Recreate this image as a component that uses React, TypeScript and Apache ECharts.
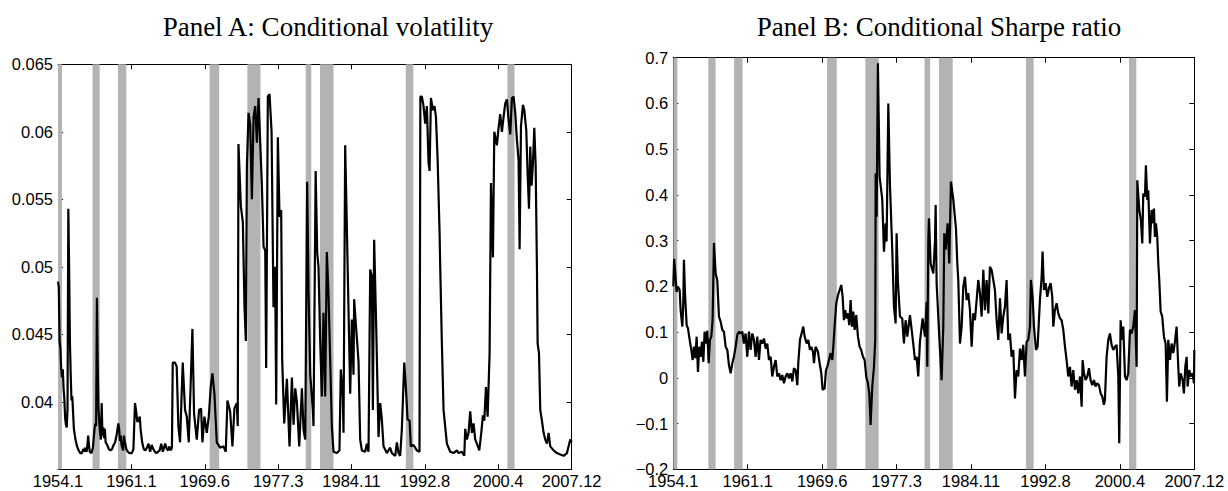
import React, { useEffect, useRef } from "react";
import * as echarts from "echarts";

// Month index: 0 = 1954.1 ... 647 = 2007.12
const MONTH_MAX = 647;
const X_TICK_LABELS = ["1954.1", "1961.1", "1969.6", "1977.3", "1984.11", "1992.8", "2000.4", "2007.12"];

// NBER recession bands, [start month index, end month index]
const RECESSIONS: [number, number][] = [
  [0, 5], [43.5, 52.5], [75.5, 86], [191, 203], [238.5, 255],
  [312, 319], [330, 347], [438, 447.5], [566, 575],
];

const PANEL_A_TITLE = "Panel A: Conditional volatility";
const PANEL_B_TITLE = "Panel B: Conditional Sharpe ratio";

// Panel A: conditional volatility [month index, value]
const volatility: [number, number][] = [
  [0,0.0489],[1,0.0485],[2,0.0445],[3,0.0440],[4,0.0425],[5,0.0418],[6,0.0424],[7,0.0410],[8,0.0402],[9,0.0388],
  [10,0.0383],[11,0.0381],[12,0.0395],[13,0.0543],[14,0.0500],[15,0.0445],[16,0.0420],[17,0.0401],[18,0.0404],[19,0.0392],
  [20,0.0380],[22,0.0372],[24,0.0367],[26,0.0364],[28,0.0362],[30,0.0362],[32,0.0365],[33,0.0363],[34,0.0366],[36,0.0363],
  [37,0.0368],[38,0.0375],[39,0.0368],[40,0.0363],[42,0.0362],[44,0.0366],[46,0.0380],[47,0.0384],[48,0.0382],[49,0.0477],
  [50,0.0430],[51,0.0395],[52,0.0385],[53,0.0377],[54,0.0372],[55,0.0399],[56,0.0375],[57,0.0381],[58,0.0373],[59,0.0380],
  [60,0.0370],[62,0.0368],[64,0.0365],[66,0.0364],[68,0.0365],[70,0.0368],[72,0.0370],[74,0.0376],[76,0.0384],[77,0.0380],
  [78,0.0371],[79,0.0375],[80,0.0368],[82,0.0364],[83,0.0375],[84,0.0371],[86,0.0365],[88,0.0363],[90,0.0362],[93,0.0362],
  [95,0.0365],[97,0.0399],[98,0.0395],[100,0.0385],[102,0.0387],[103,0.0389],[104,0.0380],[106,0.0370],[108,0.0365],[110,0.0364],
  [112,0.0366],[114,0.0369],[116,0.0363],[118,0.0368],[120,0.0365],[122,0.0363],[124,0.0362],[126,0.0363],[128,0.0364],[130,0.0369],
  [132,0.0363],[134,0.0367],[135,0.0369],[137,0.0365],[139,0.0364],[140,0.0367],[142,0.0364],[143.5,0.0366],[144.5,0.0429],[147.4,0.0429],
  [149.5,0.0426],[151.6,0.0382],[153.7,0.0370],[157.1,0.0429],[160,0.0394],[162.2,0.0389],[164.7,0.0370],[167.2,0.0415],[169.3,0.0454],[171.4,0.0391],
  [174.8,0.0372],[177.7,0.0394],[180.2,0.0395],[181.9,0.0370],[184.4,0.0389],[187.4,0.0377],[189.9,0.0389],[192.4,0.0411],[194.5,0.0421],[197,0.0406],
  [200,0.0370],[204.2,0.0366],[208.4,0.0367],[211.3,0.0363],[213.4,0.0401],[216.8,0.0393],[219.7,0.0367],[222.2,0.0395],[225.2,0.0399],[226.4,0.0382],
  [227.3,0.0591],[230.3,0.0545],[232.8,0.0533],[234.9,0.0470],[236.6,0.0445],[237.9,0.0575],[240,0.0614],[242.1,0.0605],[244.2,0.0550],[246.3,0.0611],
  [248.4,0.0619],[250.5,0.0592],[252.6,0.0625],[254.7,0.0592],[256.8,0.0560],[258.9,0.0515],[261,0.0512],[262.2,0.0425],[264.3,0.0626],[266.4,0.0628],
  [269,0.0600],[271.4,0.0470],[273.5,0.0500],[274.8,0.0398],[276.9,0.0596],[279,0.0537],[281.1,0.0542],[282.4,0.0431],[284.9,0.0384],[288.3,0.0417],
  [291.6,0.0367],[294.6,0.0418],[296.7,0.0383],[298.8,0.0410],[300.9,0.0400],[303.8,0.0367],[307.2,0.0410],[309.3,0.0379],[311.4,0.0372],[313.8,0.0563],
  [315.6,0.0480],[317.7,0.0420],[321.0,0.0394],[321.8,0.0382],[324.5,0.0571],[326.5,0.0510],[328.1,0.0500],[330.2,0.0446],[332.3,0.0404],[334.4,0.0466],
  [336.5,0.0404],[338.6,0.0511],[340.7,0.0480],[344.9,0.0382],[347,0.0363],[351.2,0.0362],[354.5,0.0364],[356.2,0.0424],[358.7,0.0404],[359.6,0.0377],
  [361.7,0.0590],[363.8,0.0530],[365.9,0.0468],[368,0.0406],[370.1,0.0461],[372.2,0.0420],[373,0.0476],[375.1,0.0458],[378.5,0.0430],[380.6,0.0372],
  [382.7,0.0364],[386.9,0.0363],[389,0.0369],[391.1,0.0363],[393.2,0.0498],[395.3,0.0493],[396.6,0.0394],[398.2,0.0520],[400.8,0.0455],[403.7,0.0374],
  [405.8,0.0399],[407.9,0.0387],[410,0.0367],[414.2,0.0362],[418.4,0.0366],[420.5,0.0362],[424.7,0.0360],[426.8,0.0370],[428.9,0.0362],[431,0.0360],
  [433.1,0.0380],[436.1,0.0429],[438.6,0.0406],[440.2,0.0387],[442.8,0.0386],[444.4,0.0367],[447.8,0.0368],[452,0.0364],[455.3,0.0363],[456.4,0.0626],
  [458.3,0.0626],[460.4,0.0619],[462.5,0.0606],[464.6,0.0619],[466.7,0.0577],[468,0.0571],[469.7,0.0625],[472.2,0.0616],[474.3,0.0619],[476,0.0611],
  [478.1,0.0580],[480.6,0.0525],[481.4,0.0500],[483.5,0.0443],[485.6,0.0394],[489.8,0.0369],[494,0.0363],[498.2,0.0362],[502.4,0.0364],[504.5,0.0362],
  [508.7,0.0363],[511.7,0.0360],[512.9,0.0380],[515,0.0372],[517.1,0.0377],[519.2,0.0393],[521.3,0.0377],[523.4,0.0384],[525.5,0.0372],[527.6,0.0369],
  [530.6,0.0364],[533.1,0.0377],[535.2,0.0390],[536.9,0.0386],[539,0.0411],[541.1,0.0389],[543.6,0.0436],[545.3,0.0562],[547.8,0.0507],[549.5,0.0600],
  [552.8,0.0590],[554.9,0.0603],[557,0.0613],[559.1,0.0600],[561.2,0.0611],[563.3,0.0621],[565.4,0.0624],[567.5,0.0609],[569.6,0.0598],[571.7,0.0625],
  [573.8,0.0626],[575.9,0.0614],[578,0.0594],[580.1,0.0579],[581.4,0.0513],[583.1,0.0604],[585.6,0.0620],[587.3,0.0616],[589.8,0.0601],[591.5,0.0569],
  [593.2,0.0543],[594.8,0.0589],[596.5,0.0560],[598.2,0.0577],[599.9,0.0603],[601.6,0.0575],[603.2,0.0500],[604.1,0.0443],[605.8,0.0436],[607.4,0.0394],
  [609.5,0.0386],[611.6,0.0377],[613.7,0.0372],[615.8,0.0369],[617.9,0.0377],[620,0.0367],[624.2,0.0364],[628.4,0.0362],[632.6,0.0361],[636.8,0.0360],
  [641,0.0362],[643.1,0.0367],[645.2,0.0372],[647,0.0370],
];

// Panel B: conditional Sharpe ratio [month index, value]
const sharpe: [number, number][] = [
  [0,0.20],[1,0.26],[2.1,0.236],[4.1,0.188],[5.8,0.199],[7.9,0.192],[9.1,0.148],[11.2,0.112],[12.4,0.163],[13.2,0.258],
  [14.5,0.185],[16.6,0.115],[18.2,0.108],[20.7,0.079],[22.4,0.061],[24.0,0.039],[25.7,0.068],[27.3,0.043],[29.0,0.090],[30.6,0.013],
  [32.3,0.068],[33.9,0.046],[35.6,0.079],[37.3,0.035],[38.9,0.101],[40.6,0.075],[42.2,0.103],[43.9,0.032],[45.5,0.083],[47.2,0.090],
  [48.8,0.126],[50.5,0.295],[52.6,0.228],[54.6,0.214],[56.7,0.134],[58.8,0.123],[60.8,0.105],[62.9,0.101],[65.0,0.068],[67.1,0.061],
  [69.1,0.028],[71.2,0.010],[73.3,0.032],[75.3,0.046],[77.4,0.068],[79.5,0.094],[81.5,0.101],[83.6,0.097],[85.7,0.101],[87.7,0.075],
  [89.8,0.097],[91.9,0.046],[94.0,0.101],[96.0,0.061],[98.1,0.097],[100.2,0.083],[102.2,0.046],[104.3,0.090],[106.4,0.039],[108.4,0.083],
  [110.5,0.075],[112.6,0.086],[114.7,0.064],[116.7,0.075],[118.8,0.039],[120.9,0.046],[122.9,0.003],[125.0,0.024],[127.1,0.039],[129.1,0.003],
  [131.2,0.010],[133.3,-0.005],[135.3,0.006],[137.4,-0.012],[139.5,0.003],[141.6,0.010],[143.6,-0.001],[145.7,0.010],[147.8,-0.008],[149.8,0.021],
  [151.9,0.017],[154.0,-0.016],[155.2,0.032],[157.3,0.083],[159.3,0.097],[161.4,0.112],[163.1,0.090],[165.6,0.075],[167.6,0.083],[169.7,0.061],
  [171.4,0.068],[173.4,0.057],[174.7,0.032],[176.7,0.068],[179.6,0.057],[181.7,0.032],[183.8,0.010],[185.4,-0.026],[187.9,-0.023],[189.6,0.017],
  [191.2,0.024],[193.3,0.039],[195.4,0.054],[197.4,0.039],[198.7,0.068],[200.4,0.115],[202.4,0.163],[204.5,0.181],[206.5,0.192],[208.6,0.203],
  [210.3,0.177],[211.9,0.126],[213.6,0.148],[215.2,0.130],[216.9,0.141],[218.5,0.115],[220.2,0.170],[221.9,0.112],[223.5,0.145],[225.2,0.105],
  [227.2,0.137],[229.3,0.090],[231.4,0.068],[233.4,0.061],[235.5,0.046],[237.6,0.039],[239.6,0.003],[241.7,-0.012],[243.4,-0.034],[245.0,-0.103],
  [247.1,-0.019],[249.2,0.024],[250.8,0.083],[251.3,0.447],[252.5,0.352],[254.1,0.688],[256.2,0.44],[259.5,0.39],[261.6,0.276],[263.7,0.338],
  [264.9,0.298],[267.0,0.60],[269.0,0.425],[271.9,0.28],[274.0,0.156],[276.1,0.119],[277.3,0.316],[279.0,0.207],[281.5,0.134],[284.3,0.130],
  [286.4,0.075],[288.5,0.126],[290.6,0.090],[292.6,0.119],[293.9,0.137],[298.0,0.075],[300.1,0.039],[302.2,0.046],[304.2,0.003],[306.3,0.079],
  [309.6,0.130],[312.5,0.090],[314.6,0.166],[315.4,0.024],[316.7,0.30],[317.5,0.349],[319.6,0.25],[322.9,0.228],[325.0,0.30],[325.8,0.378],
  [327.0,0.207],[330.3,0.090],[333.2,-0.005],[335.3,0.112],[336.5,0.316],[338.2,0.28],[340.7,0.338],[342.7,0.25],[344.8,0.429],[347.7,0.39],
  [351.0,0.327],[352.7,0.25],[353.9,0.214],[356.0,0.075],[358.1,0.112],[360.1,0.199],[362.2,0.221],[364.3,0.170],[366.3,0.185],[368.4,0.148],
  [370.5,0.068],[372.5,0.141],[374.6,0.126],[376.7,0.170],[378.7,0.214],[380.8,0.185],[382.9,0.134],[385.0,0.236],[387.0,0.148],[389.1,0.214],
  [391.2,0.141],[393.2,0.243],[395.3,0.236],[397.4,0.214],[399.4,0.192],[401.5,0.126],[403.6,0.083],[405.7,0.174],[407.7,0.097],[409.8,0.134],
  [411.9,0.156],[413.9,0.214],[416.0,0.083],[418.1,0.097],[420.1,0.046],[422.2,0.061],[424.3,-0.045],[426.3,0.017],[428.4,0.003],[430.5,0.064],
  [432.6,0.039],[434.6,0.072],[436.7,0.003],[438.8,0.079],[440.8,0.083],[442.9,0.112],[444.1,0.214],[446.2,0.177],[447.9,0.112],[450.4,0.061],
  [452.4,0.068],[455.3,0.170],[457.4,0.22],[458.6,0.276],[460.3,0.192],[462.4,0.207],[464.4,0.177],[466.9,0.199],[468.6,0.207],[470.6,0.177],
  [471.9,0.112],[473.9,0.148],[476.0,0.163],[478.1,0.141],[480.2,0.130],[482.2,0.126],[484.3,0.105],[486.4,0.068],[488.4,0.039],[490.5,0.003],
  [492.6,0.024],[494.6,-0.019],[496.7,0.017],[498.8,-0.026],[500.9,-0.005],[502.9,-0.034],[505.0,0.003],[507.1,-0.063],[508.3,0.039],[510.0,0.010],
  [512.0,-0.005],[514.1,0.003],[516.2,0.021],[518.2,-0.005],[520.3,-0.016],[522.4,-0.005],[524.4,-0.019],[526.5,-0.012],[528.6,-0.016],[530.7,-0.034],
  [532.7,-0.041],[534.8,-0.059],[536.0,-0.048],[538.1,0.046],[540.2,0.083],[542.2,0.097],[544.3,0.072],[546.4,0.061],[548.5,0.068],[550.5,0.072],
  [552.6,0.003],[553.8,-0.143],[555.5,0.126],[557.1,0.083],[558.8,0.112],[560.9,0.003],[562.9,-0.005],[565.0,0.010],[567.1,0.105],[569.1,0.097],
  [571.2,0.112],[573.3,0.148],[575.4,0.024],[576.2,0.432],[578.7,0.367],[580.7,0.345],[582.4,0.294],[583.6,0.403],[585.7,0.396],[586.9,0.465],
  [588.6,0.389],[589.8,0.41],[591.9,0.294],[594.0,0.367],[596.0,0.338],[596.9,0.37],[598.1,0.308],[599.4,0.338],[601.0,0.308],[602.3,0.25],
  [603.5,0.214],[605.2,0.145],[607.2,0.134],[609.3,0.090],[611.4,0.075],[613.0,-0.052],[614.7,0.083],[616.8,0.039],[618.8,0.075],[620.9,0.054],
  [623.0,0.079],[625.0,0.112],[627.1,0.024],[628.3,-0.019],[630.0,0.010],[632.5,-0.005],[634.1,-0.034],[635.8,0.024],[637.5,0.046],[638.7,-0.019],
  [640.8,0.017],[642.4,0.003],[644.9,0.010],[646.6,-0.012],[647,0.061],
];

const LABEL_FONT = "Liberation Sans, Arial, Helvetica, sans-serif";
const TITLE_FONT = "Liberation Serif, Times New Roman, serif";

const X_INTERVAL = MONTH_MAX / 7;

function xLabel(v: number): string {
  const i = Math.round(v / X_INTERVAL);
  return X_TICK_LABELS[i] ?? "";
}

function xAxes(gridIndex: number) {
  const common = {
    type: "value",
    gridIndex,
    min: 0,
    max: MONTH_MAX,
    interval: X_INTERVAL,
    splitLine: { show: false },
    axisLine: { show: true, onZero: false, lineStyle: { color: "#000", width: 1 } },
    axisTick: { show: true, inside: true, length: 5, lineStyle: { color: "#000", width: 1 } },
  };
  return [
    {
      ...common,
      position: "bottom",
      axisLabel: {
        show: true,
        formatter: xLabel,
        color: "#000",
        fontSize: 16.5,
        fontFamily: LABEL_FONT,
        margin: 3,
        showMinLabel: true,
        showMaxLabel: true,
        hideOverlap: false,
      },
    },
    { ...common, position: "top", axisLabel: { show: false } },
  ];
}

function yAxes(gridIndex: number, min: number, max: number, interval: number, fmt: (v: number) => string) {
  const common = {
    type: "value",
    gridIndex,
    min,
    max,
    interval,
    splitLine: { show: false },
    axisLine: { show: true, onZero: false, lineStyle: { color: "#000", width: 1 } },
    axisTick: { show: true, inside: true, length: 5, lineStyle: { color: "#000", width: 1 } },
  };
  return [
    {
      ...common,
      position: "left",
      axisLabel: {
        show: true,
        formatter: fmt,
        color: "#000",
        fontSize: 16.5,
        fontFamily: LABEL_FONT,
        margin: 5,
        showMinLabel: true,
        showMaxLabel: true,
        hideOverlap: false,
      },
    },
    { ...common, position: "right", axisLabel: { show: false } },
  ];
}

function volFmt(v: number): string {
  if (v < 0.0375) return "";
  return String(parseFloat(v.toFixed(3)));
}

function sharpeFmt(v: number): string {
  const s = String(parseFloat(v.toFixed(1)));
  return s.replace("-", "\u2212");
}

function bandArea() {
  return {
    silent: true,
    itemStyle: { color: "#b3b3b3" },
    data: RECESSIONS.map(([a, b]) => [{ xAxis: a }, { xAxis: b }]),
  };
}

export default function App() {
  const ref = useRef<HTMLDivElement>(null);

  useEffect(() => {
    document.body.style.margin = "0";
    if (!ref.current) return;
    const chart = echarts.init(ref.current, null, { renderer: "svg" });
    const xa = xAxes(0);
    const xb = xAxes(1);
    const ya = yAxes(0, 0.035, 0.065, 0.005, volFmt);
    const yb = yAxes(1, -0.2, 0.7, 0.1, sharpeFmt);
    chart.setOption({
      animation: false,
      backgroundColor: "#fff",
      grid: [
        { left: 58, top: 64.3, width: 513.7, height: 405, containLabel: false, outerBoundsMode: "none" },
        { left: 673.3, top: 57.7, width: 521, height: 411.6, containLabel: false, outerBoundsMode: "none" },
      ],
      xAxis: [xa[0], xa[1], xb[0], xb[1]],
      yAxis: [ya[0], ya[1], yb[0], yb[1]],
      graphic: [
        {
          type: "text",
          x: 328,
          y: 27,
          style: {
            text: PANEL_A_TITLE,
            fontSize: 27,
            fontFamily: TITLE_FONT,
            fill: "#000",
            align: "center",
            verticalAlign: "middle",
          },
        },
        {
          type: "text",
          x: 939,
          y: 27,
          style: {
            text: PANEL_B_TITLE,
            fontSize: 27,
            fontFamily: TITLE_FONT,
            fill: "#000",
            align: "center",
            verticalAlign: "middle",
          },
        },
      ],
      series: [
        {
          type: "line",
          xAxisIndex: 0,
          yAxisIndex: 0,
          data: volatility,
          showSymbol: false,
          symbol: "none",
          lineStyle: { color: "#000", width: 2.2 },
          z: 3,
          markArea: bandArea(),
        },
        {
          type: "line",
          xAxisIndex: 2,
          yAxisIndex: 2,
          data: sharpe,
          showSymbol: false,
          symbol: "none",
          lineStyle: { color: "#000", width: 2.2 },
          z: 3,
          markArea: bandArea(),
        },
      ],
    });
    return () => chart.dispose();
  }, []);

  return <div ref={ref} style={{ width: 1228, height: 491 }} />;
}
